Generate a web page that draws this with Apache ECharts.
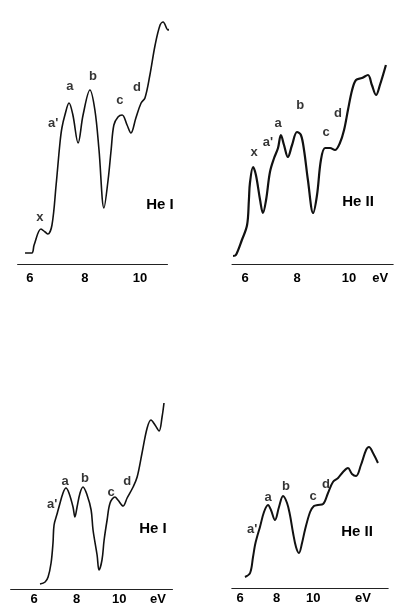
<!DOCTYPE html>
<html><head><meta charset="utf-8">
<script src="https://cdn.jsdelivr.net/npm/echarts@6/dist/echarts.min.js"></script>
<style>html,body{margin:0;padding:0;background:#fff}#c{width:395px;height:606px}</style>
</head><body><div id="c"></div>
<script>
// Photoelectron spectra: binding energy (eV) vs. intensity (arbitrary units)
const spec1He1 = [[5.82,11],[6.07,11],[6.15,19],[6.4,35],[6.55,32],[6.65,30],[6.8,39],[6.95,79],[7.09,121],[7.16,136],[7.27,149],[7.42,161],[7.56,149],[7.75,121],[7.93,149],[8.18,174],[8.36,154],[8.51,114],[8.69,56],[8.84,84],[8.95,114],[9.05,139],[9.2,147],[9.35,149],[9.53,139],[9.67,131],[9.85,146],[10.04,161],[10.18,166],[10.36,189],[10.55,219],[10.73,239],[10.84,242],[11.02,234],[11.16,239],[11.38,252]];
const spec1He2 = [[5.54,8],[5.65,9],[5.88,24],[6.08,39],[6.15,64],[6.19,81],[6.31,97],[6.42,89],[6.58,64],[6.69,51],[6.81,64],[6.96,92],[7.12,106],[7.27,116],[7.38,129],[7.5,119],[7.65,107],[7.81,119],[8.0,132],[8.15,129],[8.27,114],[8.42,84],[8.62,51],[8.77,69],[8.92,104],[9.08,116],[9.27,116],[9.46,114],[9.65,121],[9.81,134],[9.96,154],[10.12,174],[10.27,184],[10.5,186],[10.73,189],[10.88,179],[11.04,169],[11.19,179],[11.42,199]];
const spec2He1 = [[6.28,5],[6.52,7],[6.66,12],[6.8,26],[6.89,46],[6.94,64],[7.08,75],[7.17,82],[7.36,96],[7.5,101],[7.64,96],[7.83,82],[7.92,72],[8.02,82],[8.16,96],[8.3,102],[8.49,94],[8.68,79],[8.77,59],[8.96,34],[9.05,19],[9.19,29],[9.29,49],[9.43,69],[9.57,86],[9.8,92],[9.94,89],[10.18,83],[10.37,91],[10.65,102],[10.84,112],[11.07,136],[11.31,161],[11.49,169],[11.68,164],[11.87,158],[12.01,172],[12.1,186]];
const spec2He2 = [[6.27,11],[6.55,15],[6.71,31],[6.82,43],[6.93,51],[7.09,61],[7.31,76],[7.53,83],[7.69,78],[7.91,68],[8.13,81],[8.35,92],[8.57,85],[8.73,73],[8.9,55],[9.06,41],[9.22,35],[9.39,45],[9.55,58],[9.83,76],[10.04,82],[10.26,83],[10.54,84],[10.81,95],[11.08,106],[11.36,110],[11.63,116],[11.9,120],[12.12,114],[12.34,112],[12.61,123],[12.89,138],[13.05,141],[13.27,135],[13.54,125]];

// band labels: [eV, intensity, text]
const bands1He1 = [[6.36,47,'x'],[6.84,141,"a'"],[7.45,178,'a'],[8.29,188,'b'],[9.27,164,'c'],[9.89,177,'d']];
const bands1He2 = [[6.35,112,'x'],[6.88,122,"a'"],[7.27,141,'a'],[8.12,159,'b'],[9.12,132,'c'],[9.58,151,'d']];
const bands2He1 = [[6.85,85,"a'"],[7.46,108,'a'],[8.39,111,'b'],[9.62,97,'c'],[10.37,108,'d']];
const bands2He2 = [[6.66,59,"a'"],[7.53,91,'a'],[8.51,102,'b'],[9.99,92,'c'],[10.7,104,'d']];

// tick labels
const tickValues = [6, 8, 10];
const tickLabels = ['6', '8', '10'];
const unitLabel = 'eV';
const unitPos = [null, 11.2, 11.82, 12.72];
const panelNames = ['He I', 'He II', 'He I', 'He II'];

const grids = [
  {left: 17.6, width: 149.9, top: 0, height: 264},
  {left: 232, width: 161.2, top: 0, height: 264},
  {left: 10.6, width: 161.9, top: 370, height: 219},
  {left: 231.8, width: 156.4, top: 370, height: 218}
];
const xr = [[5.55, 11.0], [5.5, 11.7], [4.9, 12.5], [5.55, 14.1]];
const margins = [8, 8, 4, 4];
const spectra = [spec1He1, spec1He2, spec2He1, spec2He2];
const bands = [bands1He1, bands1He2, bands2He1, bands2He2];
const widths = [1.6, 2.2, 1.6, 2.0];
const titlePos = [[155,200],[353,197],[148,524],[352,527]];

const font = '"Liberation Sans", Arial, sans-serif';
const xAxis = [], yAxis = [], series = [], title = [];
for (let i = 0; i < 4; i++) {
  const vals = tickValues.slice();
  const labs = tickLabels.slice();
  if (unitPos[i] !== null) { vals.push(unitPos[i]); labs.push(unitLabel); }
  xAxis.push({
    type: 'value', gridIndex: i, min: xr[i][0], max: xr[i][1],
    splitLine: {show: false},
    axisLine: {show: true, lineStyle: {color: '#222', width: 1}},
    axisTick: {show: false},
    axisLabel: {
      customValues: vals, margin: margins[i],
      color: '#000', fontWeight: 'bold', fontSize: 13, fontFamily: font,
      formatter: v => { const k = vals.findIndex(t => Math.abs(t - v) < 1e-6); return k >= 0 ? labs[k] : ''; }
    }
  });
  yAxis.push({type: 'value', gridIndex: i, min: 0, max: grids[i].height, show: false});
  series.push({
    type: 'line', xAxisIndex: i, yAxisIndex: i, data: spectra[i],
    showSymbol: false, smooth: 0.35, clip: false,
    lineStyle: {color: '#111', width: widths[i]}
  });
  series.push({
    type: 'scatter', xAxisIndex: i, yAxisIndex: i, data: bands[i],
    symbolSize: 0, clip: false, silent: true,
    label: {show: true, position: 'inside', formatter: p => p.value[2],
      color: '#000', fontWeight: 'bold', fontSize: 13, fontFamily: font}
  });
  title.push({
    text: panelNames[i], left: titlePos[i][0], top: titlePos[i][1],
    textAlign: 'center', textVerticalAlign: 'middle',
    textStyle: {fontSize: 15, fontWeight: 'bold', color: '#000', fontFamily: font}
  });
}

const chart = echarts.init(document.getElementById('c'), null, {renderer: 'canvas'});
chart.setOption({
  backgroundColor: '#fff', animation: false,
  title, grid: grids, xAxis, yAxis, series
});
</script></body></html>
